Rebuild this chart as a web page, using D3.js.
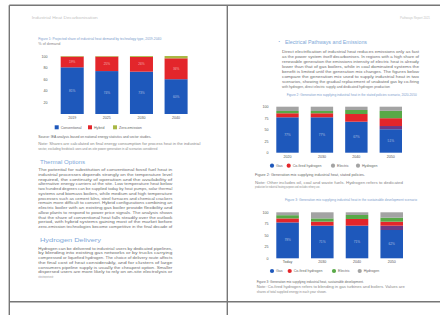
<!DOCTYPE html>
<html><head><meta charset="utf-8">
<script src="https://cdn.jsdelivr.net/npm/d3@7"></script>
<style>html,body{margin:0;padding:0;background:#fff;} svg{display:block;font-family:"Liberation Sans",Arial,sans-serif;}</style>
</head><body><svg id="c" width="440" height="315"></svg>
<script>
// ---------- DATA ----------
const cats1 = ["2019", "2025", "2030", "2040"];
const series1 = ["Conventional", "Hybrid", "Zero-emission"];
const conventional1 = [80.5, 74, 73, 60];
const hybrid1 = [18.5, 25, 25.5, 36];
const zeroEmission1 = [1, 1, 1.5, 4];
const ticks1 = [20, 40, 60, 80, 100];

const cats2 = ["2020", "2030", "2040", "2050"];
const series2 = ["Gas", "Other", "Co-fired hydrogen", "Electric", "Hydrogen"];
const gas2 = [77, 77, 67.4, 51];
const other2 = [0, 0, 0, 7];
const cofired2 = [8.7, 8.7, 16.7, 17];
const electric2 = [5, 5, 8.7, 16];
const hydrogen2 = [9.3, 9.3, 7.2, 9];
const ticks2 = [0, 25, 50, 75, 100];

const cats3 = ["Today", "2030", "2040", "2050"];
const series3 = ["Gas", "Other", "Co-fired hydrogen", "Electric", "Hydrogen"];
const gas3 = [78, 71, 71, 61.5];
const other3 = [0, 0, 0, 9.4];
const cofired3 = [8.7, 8.7, 14.5, 8.7];
const electric3 = [7, 7, 8.7, 8.7];
const hydrogen3 = [6.3, 13.3, 5.8, 11.7];
const ticks3 = [0, 25, 50, 75, 100];

// ---------- TEXT ----------
const headerLeft = "Industrial Heat Decarbonisation";
const headerRight = "Pathways Report 2021";
const chart1Title = "Figure 1: Projected share of industrial heat demand by technology type, 2019-2040";
const chart1Sub = "% of demand";
const chart1Caption = "Source: IEA analysis based on national energy statistics and sector studies.";
const chart1Note = "Note: Shares are calculated on final energy consumption for process heat in the industrial sector, excluding feedstock uses and on-site power generation in all scenarios considered here.";
const heading1 = "Thermal Options";
const para1 = "The potential for substitution of conventional fossil fuel heat in industrial processes depends strongly on the temperature level required, the continuity of operation and the availability of alternative energy carriers at the site. Low temperature heat below two hundred degrees can be supplied today by heat pumps, solar thermal systems and biomass boilers, while medium and high temperature processes such as cement kilns, steel furnaces and chemical crackers remain more difficult to convert. Hybrid configurations combining an electric boiler with an existing gas boiler provide flexibility and allow plants to respond to power price signals. The analysis shows that the share of conventional heat falls steadily over the outlook period, with hybrid systems gaining most of the market before zero-emission technologies become competitive in the final decade of the projection horizon considered in this report and related studies.";
const heading2 = "Hydrogen Delivery";
const para2 = "Hydrogen can be delivered to industrial users by dedicated pipelines, by blending into existing gas networks or by trucks carrying compressed or liquefied hydrogen. The choice of delivery route affects the final cost of heat considerably, and for clusters of large consumers pipeline supply is usually the cheapest option. Smaller dispersed users are more likely to rely on on-site electrolysis or trailer deliveries, which remain expensive in the near term and limit uptake before the end of the decade in most regions today.";
const heading3 = "Electrical Pathways and Emissions";
const para3 = "Direct electrification of industrial heat reduces emissions only as fast as the power system itself decarbonises. In regions with a high share of renewable generation the emissions intensity of electric heat is already lower than that of gas boilers, while in coal dominated systems the benefit is limited until the generation mix changes. The figures below compare the generation mix used to supply industrial heat in two scenarios, showing the gradual replacement of unabated gas by co-firing with hydrogen, direct electric supply and dedicated hydrogen production over the period to mid century for all regions.";
const chart2Title = "Figure 2: Generation mix supplying industrial heat in the stated policies scenario, 2020-2050";
const chart2Caption = "Figure 2: Generation mix supplying industrial heat, stated policies.";
const chart2Note = "Note: Other includes oil, coal and waste fuels. Hydrogen refers to dedicated production for industrial heating purposes and excludes refinery use.";
const chart3Title = "Figure 3: Generation mix supplying industrial heat in the sustainable development scenario";
const chart3Caption = "Figure 3: Generation mix supplying industrial heat, sustainable development.";
const chart3Note = "Note: Co-fired hydrogen refers to blending in gas turbines and boilers. Values are shares of total supplied energy in each year shown.";

// ---------- STYLE ----------
const svg = d3.select("#c");
svg.append("rect").attr("width", 440).attr("height", 315).attr("fill", "#fff");

const BLUE = "#1e58bb", RED = "#e3262b", GREEN = "#58a947", GRAY = "#a3a3a3", PURPLE = "#6b3a86", OLIVE = "#a9b845";
const TXT = "#6e6e6e", HEAD = "#7ea8d8", TITLE = "#7b9ccc";

// Frame lines
const frame = svg.append("g").attr("stroke", "#777").attr("stroke-width", 1.4).attr("fill", "none");
frame.append("line").attr("x1", 9.3).attr("x2", 440).attr("y1", 5.3).attr("y2", 5.3);
frame.append("line").attr("x1", 9.3).attr("x2", 9.3).attr("y1", 5.3).attr("y2", 315);
frame.append("line").attr("x1", 227.3).attr("x2", 227.3).attr("y1", 5.3).attr("y2", 315);
frame.append("line").attr("x1", 9.3).attr("x2", 440).attr("y1", 301.7).attr("y2", 301.7);

function textLine(x, y, str, size, fill, width, weight) {
  const t = svg.append("text").attr("x", x).attr("y", y).attr("dy", "0.35em")
    .attr("font-size", size).attr("fill", fill).text(str);
  if (weight) t.attr("font-weight", weight);
  if (width) t.attr("textLength", width).attr("lengthAdjust", "spacingAndGlyphs");
  return t;
}

function paragraph(x, y, width, lineH, size, fill, text, nLines, lastWidth) {
  const words = text.split(/\s+/);
  const perLine = Math.floor(width / (size * 0.5));
  const lines = [];
  let cur = "";
  words.forEach(w => {
    if ((cur + " " + w).trim().length > perLine) { lines.push(cur.trim()); cur = w; }
    else cur += " " + w;
  });
  if (cur.trim()) lines.push(cur.trim());
  for (let i = 0; i < nLines && i < lines.length; i++) {
    const last = i === nLines - 1;
    textLine(x, y + i * lineH, lines[i], size, fill, last ? lastWidth : width);
  }
}

// ---------- CHART ----------
function drawChart(cfg) {
  const g = svg.append("g");
  const x = d3.scaleBand().domain(cfg.cats).range([cfg.x0, cfg.x1]).paddingInner(cfg.pad).paddingOuter(0);
  const y = d3.scaleLinear().domain([0, 100]).range([cfg.yb, cfg.yt]);
  const rows = cfg.cats.map((c, i) => {
    const r = { cat: c };
    cfg.series.forEach((s, j) => r[s] = cfg.values[j][i]);
    return r;
  });
  const stack = d3.stack().keys(cfg.series)(rows);
  stack.forEach((layer, j) => {
    g.append("g").attr("fill", cfg.colors[j]).selectAll("rect").data(layer).join("rect")
      .attr("x", d => x(d.data.cat)).attr("width", x.bandwidth())
      .attr("y", d => y(d[1])).attr("height", d => y(d[0]) - y(d[1]));
    if (j === 0 || (cfg.square && j === 1)) {
      g.append("g").selectAll("text").data(layer.filter(d => d[1] - d[0] >= 8)).join("text")
        .attr("x", d => x(d.data.cat) + x.bandwidth() / 2).attr("y", d => (y(d[0]) + y(d[1])) / 2)
        .attr("dy", "0.35em").attr("text-anchor", "middle").attr("font-size", 3.2).attr("fill", "#fff")
        .attr("fill-opacity", 0.6)
        .text(d => Math.round(d[1] - d[0]) + "%");
    }
  });
  const ya = g.append("g").attr("transform", `translate(${cfg.axisX},0)`)
    .call(d3.axisLeft(y).tickValues(cfg.ticks).tickSize(0).tickPadding(2));
  ya.select(".domain").remove();
  ya.selectAll("text").attr("font-size", 3.6).attr("fill", "#555").attr("font-family", "Liberation Sans, Arial, sans-serif");
  const xa = g.append("g").attr("transform", `translate(0,${cfg.yb})`)
    .call(d3.axisBottom(x).tickSize(0).tickPadding(2.5));
  xa.select(".domain").remove();
  xa.selectAll("text").attr("font-size", 3.6).attr("fill", "#555").attr("font-family", "Liberation Sans, Arial, sans-serif");
  // legend
  cfg.legend.forEach((it, k) => {
    const lx = cfg.legendX[k];
    if (cfg.square) {
      g.append("rect").attr("x", lx).attr("y", cfg.legendY - 2).attr("width", 4).attr("height", 4).attr("fill", it.color);
      textLine(lx + 6, cfg.legendY, it.name, 3.6, "#666");
    } else {
      g.append("circle").attr("cx", lx).attr("cy", cfg.legendY).attr("r", 2.1).attr("fill", it.color);
      textLine(lx + 4, cfg.legendY, it.name, 3.6, "#666");
    }
  });
}

// ---------- LEFT PAGE ----------
textLine(31.7, 17.3, headerLeft, 4, "#c4c4c4", 66);
textLine(38.3, 39, chart1Title, 3.8, TITLE, 123);
textLine(38.3, 43.5, chart1Sub, 3.6, "#888", 22);

drawChart({
  cats: cats1, series: series1, values: [conventional1, hybrid1, zeroEmission1],
  colors: [BLUE, RED, OLIVE], x0: 60.7, x1: 187.6, pad: 0.335, yb: 114, yt: 56, axisX: 49.5,
  ticks: ticks1, square: true, legendY: 127.3, legendX: [54.7, 88, 113],
  legend: [{ name: series1[0], color: BLUE }, { name: series1[1], color: RED }, { name: series1[2], color: OLIVE }]
});

textLine(38.3, 136.8, chart1Caption, 3.7, "#666", 113);
paragraph(38.3, 143.8, 162, 5, 3.6, "#888", chart1Note, 2, 119);

textLine(40, 161.7, heading1, 6, HEAD, 45);
paragraph(38.3, 170, 134, 4.72, 3.8, TXT, para1, 13, 134);
textLine(40, 240, heading2, 6, HEAD, 61);
paragraph(38.3, 248.3, 134, 4.72, 3.8, TXT, para2, 7, 15);

// ---------- RIGHT PAGE ----------
textLine(400, 17.3, headerRight, 3.6, "#c4c4c4", 30);
textLine(278.5, 41.7, "\u2022", 4, HEAD);
textLine(285, 41.7, heading3, 5.2, HEAD, 82);
paragraph(282, 51.7, 137, 5, 3.8, TXT, para3, 8, 108);
textLine(286.7, 94.3, chart2Title, 3.6, TITLE, 130);

drawChart({
  cats: cats2, series: series2, values: [gas2, other2, cofired2, electric2, hydrogen2],
  colors: [BLUE, PURPLE, RED, GREEN, GRAY], x0: 276.3, x1: 402, pad: 0.35, yb: 152.7, yt: 106.7, axisX: 270.5,
  ticks: ticks2, square: false, legendY: 165.7, legendX: [272, 288.7, 333, 358],
  legend: [{ name: "Gas", color: BLUE }, { name: "Co-fired hydrogen", color: RED }, { name: "Electric", color: GRAY }, { name: "Hydrogen", color: GRAY }]
});

textLine(255, 175, chart2Caption, 3.7, "#666", 110);
paragraph(255, 183, 148, 4, 3.5, "#888", chart2Note, 2, 65);

textLine(285, 200, chart3Title, 3.6, TITLE, 132);

drawChart({
  cats: cats3, series: series3, values: [gas3, other3, cofired3, electric3, hydrogen3],
  colors: [BLUE, PURPLE, RED, GREEN, GRAY], x0: 276.3, x1: 403, pad: 0.35, yb: 258.3, yt: 212.3, axisX: 270.5,
  ticks: ticks3, square: false, legendY: 271, legendX: [272, 289.7, 334, 359.7],
  legend: [{ name: "Gas", color: BLUE }, { name: "Co-fired hydrogen", color: RED }, { name: "Electric", color: GREEN }, { name: "Hydrogen", color: GRAY }]
});

textLine(256.7, 281.7, chart3Caption, 3.7, "#666", 107);
paragraph(256.7, 286.7, 148, 5, 3.5, "#888", chart3Note, 2, 70);
</script></body></html>
